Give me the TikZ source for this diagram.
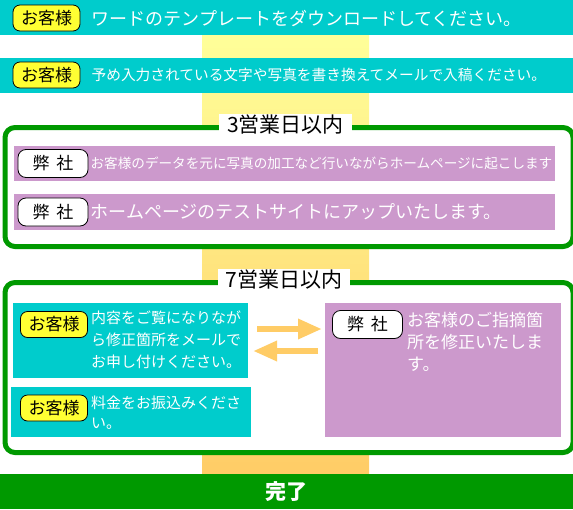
\documentclass[tikz,border=0pt]{standalone}
\usepackage{fontspec}
\setmainfont{Noto Sans CJK JP}
\usepackage{tikz}
\usetikzlibrary{positioning}
\usetikzlibrary{arrows.meta}
\usepackage{xcolor}
\definecolor{barcyan}{HTML}{00CCCC}
\definecolor{rowpurple}{HTML}{CC99CC}
\definecolor{framegreen}{HTML}{009900}
\definecolor{badgeyellow}{HTML}{FFFF33}
\definecolor{coltop}{HTML}{FFFF99}
\definecolor{colbot}{HTML}{FFCC66}

\begin{document}
\begin{tikzpicture}[x=1pt, y=-1pt,
    bar/.style={rectangle, fill=barcyan, anchor=north west, inner sep=0pt, outer sep=0pt, minimum width=573pt, minimum height=35pt},
    row/.style={rectangle, fill=rowpurple, anchor=north west, inner sep=0pt, outer sep=0pt},
    cbox/.style={rectangle, fill=barcyan, anchor=north west, inner sep=0pt, outer sep=0pt},
    frame/.style={rectangle, draw=framegreen, line width=5pt, fill=white, rounded corners=10pt, anchor=north west, inner sep=0pt},
    title/.style={rectangle, fill=white, inner xsep=8pt, inner ysep=1pt, font=\fontsize{21}{24}\selectfont},
    guest/.style={rectangle, draw, fill=badgeyellow, rounded corners=7pt, line width=0.8pt, inner sep=0pt, minimum width=67pt, minimum height=26pt, font=\fontsize{17}{20}\selectfont},
    firm/.style={rectangle, draw, fill=white, rounded corners=8pt, line width=0.8pt, inner sep=0pt, minimum width=70pt, minimum height=28pt, font=\fontsize{17}{20}\selectfont},
    txt/.style={text=white, inner sep=0pt, anchor=west, align=left},
    flow/.style={draw=colbot, line width=6pt, -{Triangle[width=19pt, length=24pt]}}
]
    \useasboundingbox (0,0) rectangle (573,509);

    % Column behind
    \fill[top color=coltop, bottom color=colbot] (202,35) rectangle (369,474);

    % Download
    \node[bar] (bar1) at (0,0) {};
    \node[guest] (g1) at (46.5,18) {お客様};
    \node[txt, right=11pt of g1, font=\fontsize{18}{22}\selectfont] (t1) {ワードのテンプレートをダウンロードしてください。};

    % Input
    \node[bar] (bar2) at (0,58) {};
    \node[guest] (g2) at (46.5,75) {お客様};
    \node[txt, right=11pt of g2, font=\fontsize{14.7}{18}\selectfont] (t2) {予め入力されている文字や写真を書き換えてメールで入稿ください。};

    % 3 days
    \node[frame, minimum width=568pt, minimum height=119pt] (frm1) at (2.5,125) {};
    \node[title] (ttl1) at (285.5,125) {3営業日以内};
    \node[row, minimum width=541.5pt, minimum height=35pt] (r1) at (13.5,146) {};
    \node[firm] (f1) at (53,163.5) {弊\hspace{7pt}社};
    \node[txt, right=2pt of f1, font=\fontsize{13.6}{16}\selectfont] (t3) {お客様のデータを元に写真の加工など行いながらホームページに起こします};
    \node[row, minimum width=541.5pt, minimum height=36pt] (r2) at (13.5,194) {};
    \node[firm] (f2) at (53,212) {弊\hspace{7pt}社};
    \node[txt, right=2pt of f2, font=\fontsize{18}{22}\selectfont] (t4) {ホームページのテストサイトにアップいたします。};

    % 7 days
    \node[frame, minimum width=568pt, minimum height=170pt] (frm2) at (2.5,280) {};
    \node[title] (ttl2) at (284,280) {7営業日以内};

    \node[cbox, minimum width=235pt, minimum height=75pt] (cb1) at (13,303) {};
    \node[guest] (g3) at (54,324.5) {お客様};
    \node[txt, font=\fontsize{15}{22}\selectfont] (t5) at (91,340) {内容をご覧になりなが\\ら修正箇所をメールで\\お申し付けください。};

    \node[cbox, minimum width=240pt, minimum height=50pt] (cb2) at (11,387) {};
    \node[guest] (g4) at (54,408) {お客様};
    \node[txt, font=\fontsize{15}{20}\selectfont] (t6) at (91,413) {料金をお振込みくださ\\い。};

    \node[row, minimum width=236pt, minimum height=134pt] (pb) at (325,303) {};
    \node[firm] (f3) at (367.5,324.5) {弊\hspace{7pt}社};
    \node[txt, anchor=north west, font=\fontsize{17}{22}\selectfont] (t7) at (407,312) {お客様のご指摘箇\\所を修正いたしま\\す。};

    % Exchange
    \draw[flow, shorten <=9pt, shorten >=3pt] (cb1.east |- 0,329) -- (pb.west |- 0,329);
    \draw[flow, shorten <=7pt, shorten >=5pt] (pb.west |- 0,351) -- (cb1.east |- 0,351);

    % Done
    \node[bar, fill=framegreen, text=white, font=\fontsize{21}{24}\selectfont\bfseries] (done) at (0,474) {完了};
\end{tikzpicture}
\end{document}
